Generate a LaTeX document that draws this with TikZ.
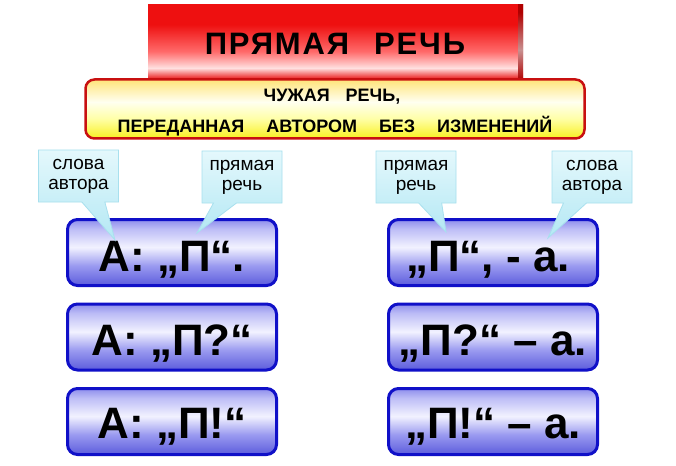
\documentclass[tikz,border=0pt]{standalone}
\usepackage{fontspec}
\setmainfont{Liberation Sans}
\usetikzlibrary{shapes.callouts}
\definecolor{rA}{HTML}{E80808}
\definecolor{rB}{HTML}{FFE0E0}
\definecolor{rC}{HTML}{FF6A6A}
\definecolor{rD}{HTML}{EE1010}
\definecolor{bvA}{HTML}{B00000}
\definecolor{bvB}{HTML}{C89090}
\definecolor{yA}{HTML}{F8F020}
\definecolor{yB}{HTML}{FFFFA8}
\definecolor{yC}{HTML}{FFFFF0}
\definecolor{yD}{HTML}{FFE47A}
\definecolor{blA}{HTML}{5C5CDC}
\definecolor{blB}{HTML}{9A9AF0}
\definecolor{blC}{HTML}{F2F2FF}
\definecolor{blD}{HTML}{BCBCF6}
\definecolor{blE}{HTML}{8E8EEC}
\definecolor{blueedge}{HTML}{1010C8}
\definecolor{yedge}{HTML}{C81010}
\definecolor{cyTop}{HTML}{E4F8FC}
\definecolor{cyBot}{HTML}{B4E8F4}
\definecolor{cyEdge}{HTML}{A8E0EE}
\pgfdeclareverticalshading{redbar}{100bp}{color(0bp)=(rA); color(25bp)=(rA); color(33bp)=(rB); color(44bp)=(rC); color(62bp)=(rD); color(75bp)=(rD); color(100bp)=(rD)}
\pgfdeclareverticalshading{bevelbar}{100bp}{color(0bp)=(bvA); color(25bp)=(bvA); color(45bp)=(bvB); color(70bp)=(bvA); color(100bp)=(bvA)}
\pgfdeclareverticalshading{yellowbar}{100bp}{color(0bp)=(yA); color(25bp)=(yA); color(42bp)=(yB); color(56bp)=(yC); color(75bp)=(yD); color(100bp)=(yD)}
\pgfdeclareverticalshading{bluebar}{100bp}{color(0bp)=(blA); color(25bp)=(blA); color(40bp)=(blB); color(54bp)=(blC); color(68bp)=(blD); color(75bp)=(blE); color(100bp)=(blE)}
\tikzset{
  redbox/.style={rectangle, shading=redbar, minimum width=375pt, minimum height=75pt, inner sep=0pt},
  titletxt/.style={anchor=base, inner sep=0pt, font=\fontsize{31}{31}\selectfont\bfseries\addfontfeatures{LetterSpace=6}},
  yellowbox/.style={rectangle, rounded corners=9pt, draw=yedge, line width=2.5pt, shading=yellowbar, minimum width=499pt, minimum height=59pt, inner sep=0pt},
  deftxt/.style={anchor=base, inner sep=0pt, font=\fontsize{18}{18}\selectfont\bfseries},
  bluebox/.style={rectangle, rounded corners=10pt, draw=blueedge, line width=3pt, shading=bluebar, minimum width=209pt, minimum height=66pt, inner sep=0pt},
  bigtxt/.style={anchor=base, inner sep=0pt, font=\fontsize{44}{44}\selectfont\bfseries},
  note/.style={rectangle callout, draw=cyEdge, line width=0.8pt, top color=cyTop, bottom color=cyBot, minimum width=80pt, minimum height=52pt, inner sep=0pt, align=center, callout pointer width=23pt, font=\fontsize{19}{20}\selectfont}
}
\begin{document}
\begin{tikzpicture}[x=1pt,y=-1pt]
\useasboundingbox[fill=white] (0,0) rectangle (676,465);
% title bar
\node[redbox] (title) at (335.5,42.5) {};
\path[shading=bevelbar] ([xshift=-5pt]title.north east) rectangle (title.south east);
\node[titletxt] (titleT) at (335,55) {ПРЯМАЯ\hspace{25pt}РЕЧЬ};
% definition
\node[yellowbox] (def) at (335,109) {};
\node[deftxt] (def1) at (332,102) {ЧУЖАЯ\hspace{16pt}РЕЧЬ,};
\node[deftxt] (def2) at (335,133) {ПЕРЕДАННАЯ\hspace{22pt}АВТОРОМ\hspace{22pt}БЕЗ\hspace{22pt}ИЗМЕНЕНИЙ};
% blue boxes
\node[bluebox] (b1) at (172,252.5) {};
\node[bluebox] (b2) at (172,337) {};
\node[bluebox] (b3) at (172,421.5) {};
\node[bluebox] (b4) at (493,252.5) {};
\node[bluebox] (b5) at (493,337) {};
\node[bluebox] (b6) at (493,421.5) {};
\node[bigtxt] (t1) at ([yshift=-19pt]b1.center) {А: „П“.};
\node[bigtxt] (t2) at ([yshift=-18pt]b2.center) {А: „П?“};
\node[bigtxt] (t3) at ([yshift=-17pt]b3.center) {А: „П!“};
\node[bigtxt] (t4) at ([xshift=-5pt,yshift=-19pt]b4.center) {„П“, - а.};
\node[bigtxt] (t5) at ([yshift=-18pt]b5.center) {„П?“ – а.};
\node[bigtxt] (t6) at ([yshift=-17pt]b6.center) {„П!“ – а.};
% callouts
\coordinate (p1) at (115,240);
\coordinate (p2) at (197,233);
\coordinate (p3) at (446,232);
\coordinate (p4) at (548,238);
\node[note, callout absolute pointer={(p1)}] (c1) at (78.5,176) {слова\\автора};
\node[note, callout absolute pointer={(p2)}] (c2) at (242,177) {прямая\\речь};
\node[note, callout absolute pointer={(p3)}] (c3) at (416,177) {прямая\\речь};
\node[note, callout absolute pointer={(p4)}] (c4) at (592,177) {слова\\автора};
\end{tikzpicture}
\end{document}
